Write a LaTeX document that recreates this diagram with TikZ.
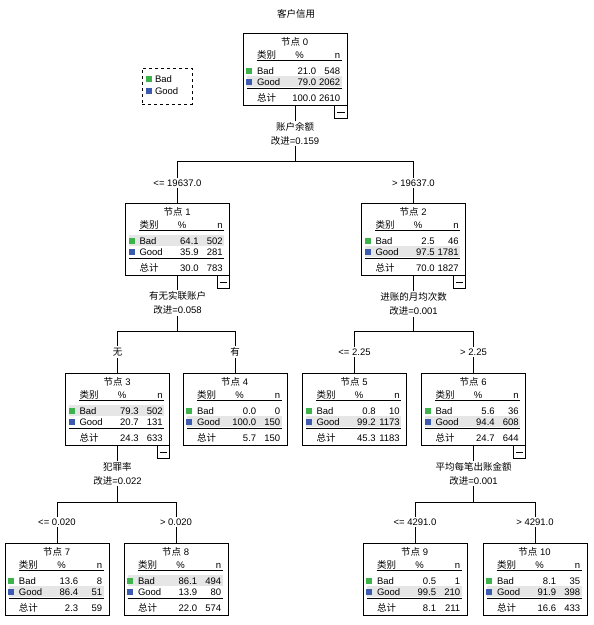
\documentclass[tikz,border=0pt]{standalone}
\usepackage{fontspec}
\setmainfont{Liberation Sans}
\newfontfamily\cjk{Noto Sans CJK SC}
\usetikzlibrary{positioning,calc}
\definecolor{badgreen}{RGB}{60,180,75}
\definecolor{goodblue}{RGB}{60,90,175}
\definecolor{hlgray}{RGB}{230,230,230}
\tikzset{
  every picture/.style={line width=0.8pt},
  kbox/.style={draw, minimum width=104, minimum height=72, inner sep=0},
  cell/.style={inner sep=0, font=\fontsize{9.5}{11}\selectfont, text height=6.8pt, text depth=0pt},
  split/.style={inner sep=1, align=center, font=\fontsize{9.5}{14}\selectfont},
  cond/.style={inner sep=1.5, font=\fontsize{9.5}{11}\selectfont},
  minus/.style={draw, minimum size=12.5, inner sep=0,
    path picture={\draw ($(path picture bounding box.west)+(2.5,0)$) -- ($(path picture bounding box.east)+(-2.5,0)$);}}
}
% 表格内容: [高亮行]{节点名}{编号}{Bad %}{Bad n}{Good %}{Good n}{总计 %}{总计 n}
\newcommand{\ktable}[9][g]{%
  \begin{scope}[shift={(#2.north west)}]
    \if b#1
      \fill[hlgray] (4,32.5) rectangle (99,43.5);
    \else
      \fill[hlgray] (4,43.5) rectangle (99,54.5);
    \fi
    \node[cell] at (52,9.5) {{\cjk 节点} #3};
    \node[cell, anchor=west] at (14,22) {\cjk 类别};
    \node[cell] at (57,22) {\%};
    \node[cell, anchor=east] at (98,22) {n};
    \draw (14,28) -- (99,28);
    \fill[badgreen] (3.5,35) rectangle (9.5,41);
    \node[cell, anchor=west] at (14,38) {Bad};
    \node[cell, anchor=east] at (74,38) {#4};
    \node[cell, anchor=east] at (98,38) {#5};
    \fill[goodblue] (3.5,46) rectangle (9.5,52);
    \node[cell, anchor=west] at (14,49) {Good};
    \node[cell, anchor=east] at (74,49) {#6};
    \node[cell, anchor=east] at (98,49) {#7};
    \draw (4,55.5) -- (99,55.5);
    \node[cell, anchor=west] at (14,65) {\cjk 总计};
    \node[cell, anchor=east] at (74,65) {#8};
    \node[cell, anchor=east] at (98,65) {#9};
  \end{scope}}

\begin{document}
\begin{tikzpicture}[x=1pt, y=-1pt]
    \useasboundingbox (0,0) rectangle (594,625);

    % 标题
    \node[cell] (title) at (296,14) {\cjk 客户信用};

    % 图例
    \node[draw, dashed, minimum width=50, minimum height=36, inner sep=0] (legend) at (167,86) {};
    \begin{scope}[shift={(legend.north west)}]
      \fill[badgreen] (4.5,8.5) rectangle (10.5,14.5);
      \node[cell, anchor=west] at (13,11.5) {Bad};
      \fill[goodblue] (4.5,20.5) rectangle (10.5,26.5);
      \node[cell, anchor=west] at (13,23.5) {Good};
    \end{scope}

    % 节点框
    \node[kbox] (n0) at (295,69) {};
    \node[kbox] (n1) at (177.5,239) {};
    \node[kbox] (n2) at (413.5,239) {};
    \node[kbox] (n3) at (117.5,409) {};
    \node[kbox] (n4) at (235,409) {};
    \node[kbox] (n5) at (354.5,409) {};
    \node[kbox] (n6) at (473.5,409) {};
    \node[kbox] (n7) at (57,579) {};
    \node[kbox] (n8) at (176,579) {};
    \node[kbox] (n9) at (415,579) {};
    \node[kbox] (n10) at (535,579) {};

    % 表格
    \ktable{n0}{0}{21.0}{548}{79.0}{2062}{100.0}{2610}
    \ktable[b]{n1}{1}{64.1}{502}{35.9}{281}{30.0}{783}
    \ktable{n2}{2}{2.5}{46}{97.5}{1781}{70.0}{1827}
    \ktable[b]{n3}{3}{79.3}{502}{20.7}{131}{24.3}{633}
    \ktable{n4}{4}{0.0}{0}{100.0}{150}{5.7}{150}
    \ktable{n5}{5}{0.8}{10}{99.2}{1173}{45.3}{1183}
    \ktable{n6}{6}{5.6}{36}{94.4}{608}{24.7}{644}
    \ktable{n7}{7}{13.6}{8}{86.4}{51}{2.3}{59}
    \ktable[b]{n8}{8}{86.1}{494}{13.9}{80}{22.0}{574}
    \ktable{n9}{9}{0.5}{1}{99.5}{210}{8.1}{211}
    \ktable{n10}{10}{8.1}{35}{91.9}{398}{16.6}{433}

    % 折叠按钮
    \node[minus, anchor=north east] (n0m) at (n0.south east) {};
    \node[minus, anchor=north east] (n1m) at (n1.south east) {};
    \node[minus, anchor=north east] (n2m) at (n2.south east) {};
    \node[minus, anchor=north east] (n3m) at (n3.south east) {};
    \node[minus, anchor=north east] (n6m) at (n6.south east) {};

    % 第一层分支
    \node[split] (s0) at (n0 |- 0,133.5) {{\cjk 账户余额}\\{\cjk 改进}=0.159};
    \node[cond] (c1) at (n1 |- 0,183) {<= 19637.0};
    \node[cond] (c2) at (n2 |- 0,183) {> 19637.0};
    \draw (n0.south) -- (s0.north);
    \draw (s0.south) -- (s0.south |- 0,161) -| (c1.north);
    \draw (s0.south |- 0,161) -| (c2.north);
    \draw (c1.south) -- (n1.north);
    \draw (c2.south) -- (n2.north);

    % 第二层分支 (左)
    \node[split] (s1) at (n1 |- 0,303) {{\cjk 有无实联账户}\\{\cjk 改进}=0.058};
    \node[cond] (c3) at (n3 |- 0,352) {\cjk 无};
    \node[cond] (c4) at (n4 |- 0,352) {\cjk 有};
    \draw (n1.south) -- (s1.north);
    \draw (s1.south) -- (s1.south |- 0,331) -| (c3.north);
    \draw (s1.south |- 0,331) -| (c4.north);
    \draw (c3.south) -- (n3.north);
    \draw (c4.south) -- (n4.north);

    % 第二层分支 (右)
    \node[split] (s2) at (n2 |- 0,304) {{\cjk 进账的月均次数}\\{\cjk 改进}=0.001};
    \node[cond] (c5) at (n5 |- 0,352) {<= 2.25};
    \node[cond] (c6) at (n6 |- 0,352) {> 2.25};
    \draw (n2.south) -- (s2.north);
    \draw (s2.south) -- (s2.south |- 0,331) -| (c5.north);
    \draw (s2.south |- 0,331) -| (c6.north);
    \draw (c5.south) -- (n5.north);
    \draw (c6.south) -- (n6.north);

    % 第三层分支 (左)
    \node[split] (s3) at (n3 |- 0,473.5) {{\cjk 犯罪率}\\{\cjk 改进}=0.022};
    \node[cond] (c7) at (n7 |- 0,522) {<= 0.020};
    \node[cond] (c8) at (n8 |- 0,522) {> 0.020};
    \draw (n3.south) -- (s3.north);
    \draw (s3.south) -- (s3.south |- 0,502) -| (c7.north);
    \draw (s3.south |- 0,502) -| (c8.north);
    \draw (c7.south) -- (n7.north);
    \draw (c8.south) -- (n8.north);

    % 第三层分支 (右)
    \node[split] (s6) at (n6 |- 0,473.5) {{\cjk 平均每笔出账金额}\\{\cjk 改进}=0.001};
    \node[cond] (c9) at (n9 |- 0,522) {<= 4291.0};
    \node[cond] (c10) at (n10 |- 0,522) {> 4291.0};
    \draw (n6.south) -- (s6.north);
    \draw (s6.south) -- (s6.south |- 0,502) -| (c9.north);
    \draw (s6.south |- 0,502) -| (c10.north);
    \draw (c9.south) -- (n9.north);
    \draw (c10.south) -- (n10.north);
\end{tikzpicture}
\end{document}
